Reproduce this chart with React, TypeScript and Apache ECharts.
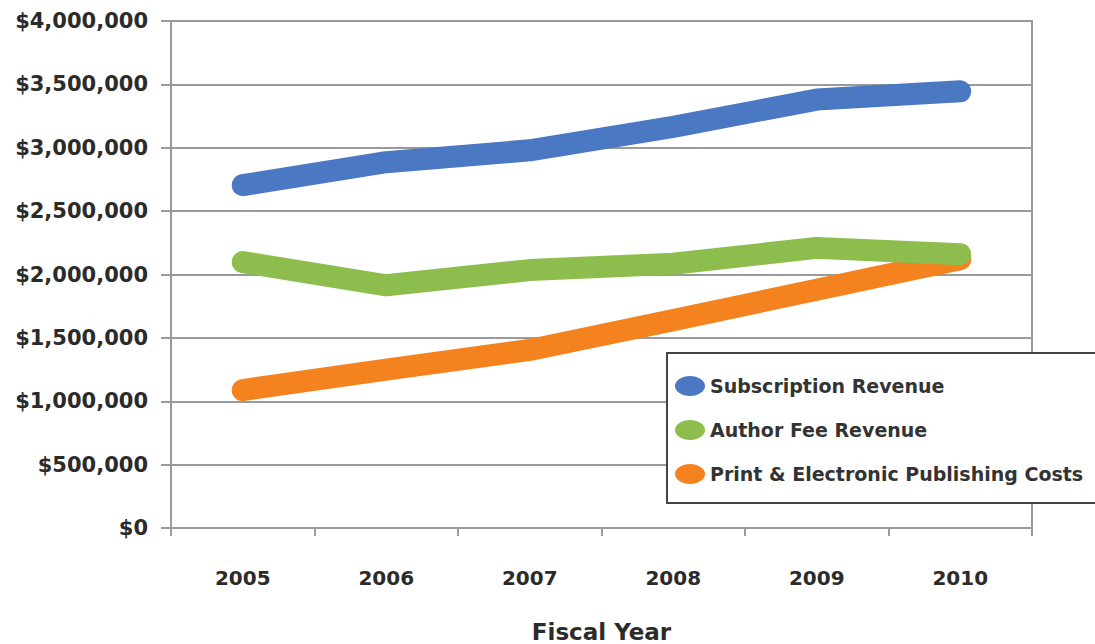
import React, { useEffect, useRef } from "react";
import * as echarts from "echarts";

const years = ["2005", "2006", "2007", "2008", "2009", "2010"];
const subscriptionRevenue = [2705000, 2886000, 2980000, 3165000, 3380000, 3445000];
const authorFeeRevenue = [2098000, 1915000, 2035000, 2085000, 2210000, 2160000];
const publishingCosts = [1088000, 1250000, 1405000, 1640000, 1880000, 2120000];
const seriesNames = [
  "Subscription Revenue",
  "Author Fee Revenue",
  "Print & Electronic Publishing Costs",
];

const FONT = "DejaVu Sans";
const ellipseIcon = "path://M0,10 A15,10 0 1,1 30,10 A15,10 0 1,1 0,10 Z";

export default function App() {
  const ref = useRef<HTMLDivElement>(null);
  useEffect(() => {
    if (!ref.current) return;
    document.body.style.margin = "0";
    const chart = echarts.init(ref.current, null, {
      renderer: "svg",
      width: 1095,
      height: 644,
    });
    const line = (name: string, data: number[], color: string, z: number) => ({
      name,
      type: "line",
      data,
      z,
      showSymbol: false,
      symbol: "none",
      color,
      lineStyle: { width: 22, color, cap: "round", join: "round" },
    });
    chart.setOption({
      animation: false,
      backgroundColor: "#ffffff",
      grid: {
        left: 171,
        right: 63,
        top: 21,
        bottom: 116,
        containLabel: false,
        outerBoundsMode: "none",
        show: true,
        borderColor: "#9a9a9a",
        borderWidth: 2,
        backgroundColor: "transparent",
      },
      legend: {
        orient: "vertical",
        left: 667,
        top: 353,
        data: seriesNames.map((n) => ({ name: n, icon: ellipseIcon })),
        itemWidth: 30,
        itemHeight: 22,
        itemGap: 24,
        itemStyle: { borderWidth: 0 },
        padding: [23, 30, 19, 8],
        borderColor: "#444444",
        borderWidth: 2,
        backgroundColor: "#ffffff",
        textStyle: {
          fontFamily: FONT,
          fontWeight: "bold",
          fontSize: 19,
          color: "#333333",
        },
      },
      xAxis: {
        type: "category",
        data: years,
        boundaryGap: true,
        axisLine: { lineStyle: { color: "#9a9a9a", width: 2 } },
        axisTick: { show: true, length: 8, lineStyle: { color: "#9a9a9a", width: 2 } },
        axisLabel: {
          margin: 40,
          fontFamily: FONT,
          fontWeight: "bold",
          fontSize: 20,
          color: "#2b2b2b",
        },
        name: "Fiscal Year",
        nameLocation: "middle",
        nameGap: 92,
        nameTextStyle: {
          fontFamily: FONT,
          fontWeight: "bold",
          fontSize: 23,
          color: "#2b2b2b",
        },
      },
      yAxis: {
        type: "value",
        min: 0,
        max: 4000000,
        interval: 500000,
        axisLine: { show: true, lineStyle: { color: "#9a9a9a", width: 2 } },
        axisTick: { show: true, length: 10, lineStyle: { color: "#9a9a9a", width: 2 } },
        splitLine: { show: true, lineStyle: { color: "#9a9a9a", width: 2 } },
        axisLabel: {
          margin: 23,
          fontFamily: FONT,
          fontWeight: "bold",
          fontSize: 21,
          color: "#2b2b2b",
          formatter: (v: number) => "$" + v.toLocaleString("en-US"),
        },
      },
      series: [
        line(seriesNames[0], subscriptionRevenue, "#4a78c2", 4),
        line(seriesNames[2], publishingCosts, "#f4821f", 2),
        line(seriesNames[1], authorFeeRevenue, "#8dbd4c", 3),
      ],
    });
    return () => chart.dispose();
  }, []);
  return <div ref={ref} style={{ width: 1095, height: 644 }} />;
}
